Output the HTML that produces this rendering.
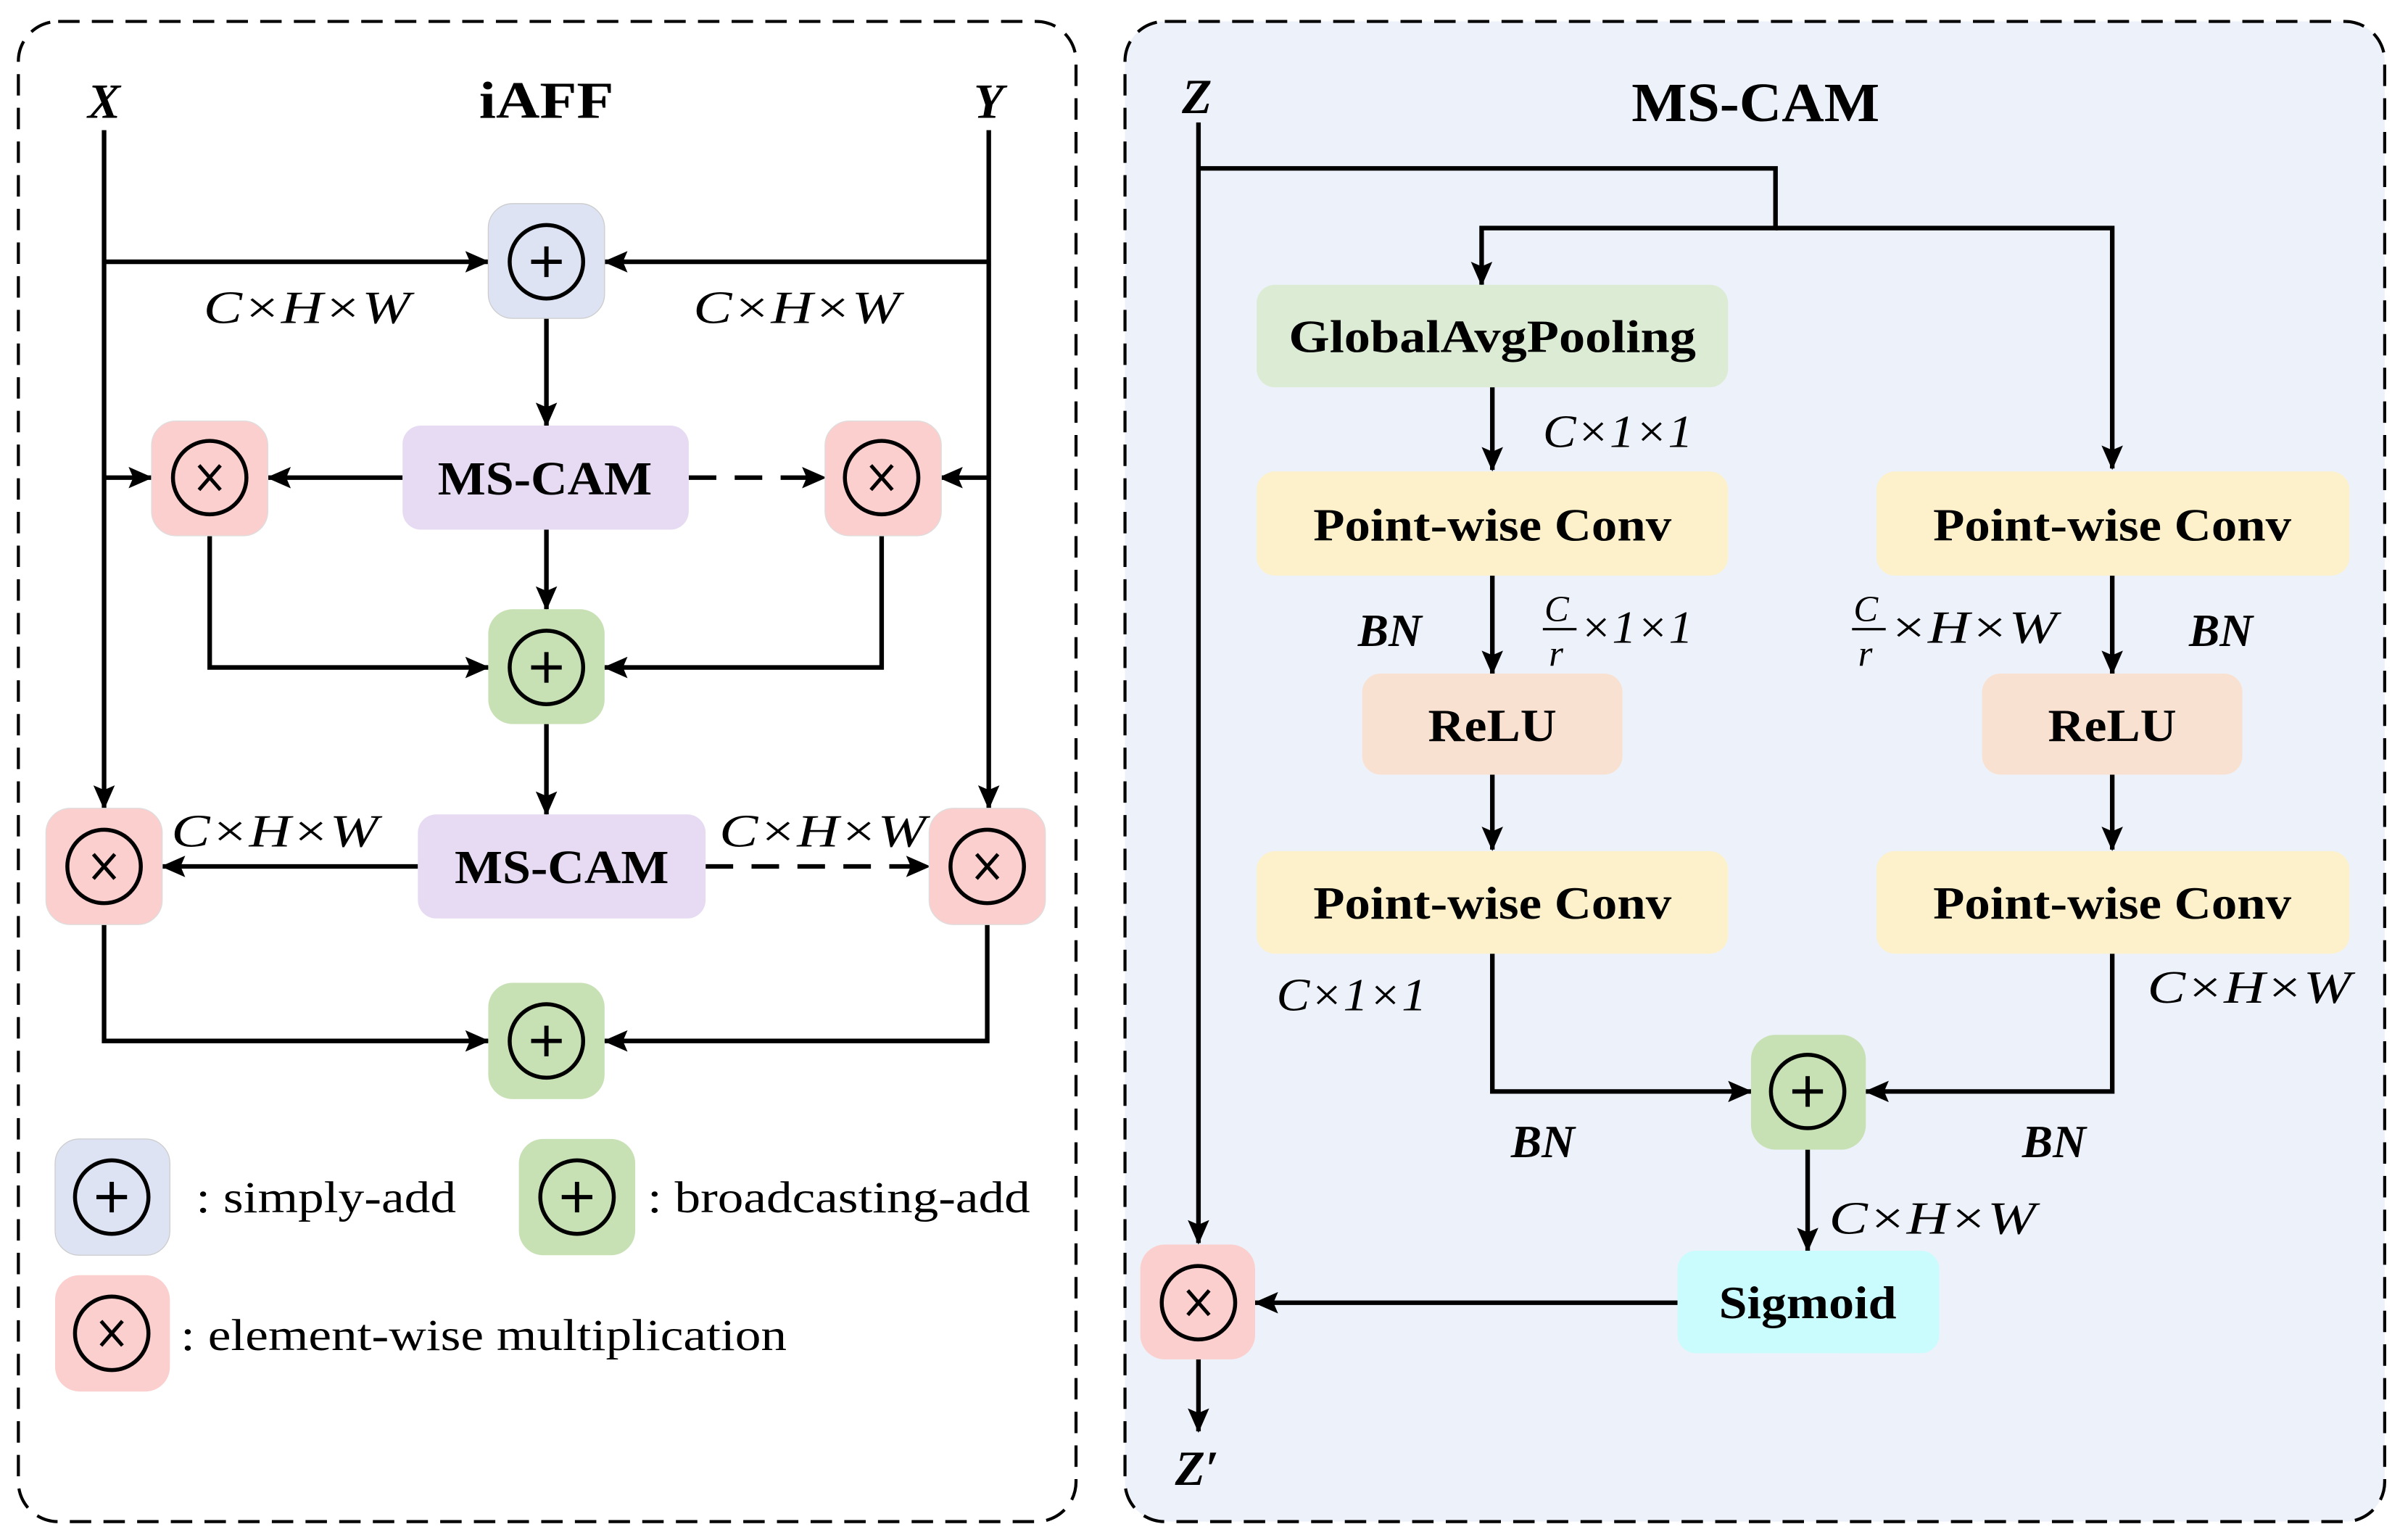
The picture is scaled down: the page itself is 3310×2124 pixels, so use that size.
<!DOCTYPE html>
<html><head><meta charset="utf-8"><style>
html,body{margin:0;padding:0;background:#fff}
svg{display:block}
text{font-family:"Liberation Serif",serif;fill:#000}
.b{font-weight:bold}
.i{font-style:italic}
</style></head><body>
<svg width="3310" height="2124" viewBox="0 0 1568 1006" preserveAspectRatio="none" xmlns="http://www.w3.org/2000/svg">
<defs>
<marker id="a" viewBox="0 0 16 14" refX="15" refY="7" markerWidth="16" markerHeight="14" markerUnits="userSpaceOnUse" orient="auto">
<path d="M0,0 L16,7 L0,14 L3,7 z" fill="#000"/></marker>
<g id="plus"><circle cx="0" cy="0" r="24" fill="none" stroke="#000" stroke-width="2.6"/><path d="M-10,0H10M0,-10V10" stroke="#000" stroke-width="2.8"/></g>
<g id="times"><circle cx="0" cy="0" r="24" fill="none" stroke="#000" stroke-width="2.6"/><path d="M-7,-8L7,8M7,-8L-7,8" stroke="#000" stroke-width="2.4"/></g>
</defs>
<rect x="12" y="14" width="691" height="980" rx="26" fill="#fff" stroke="#000" stroke-width="2" stroke-dasharray="14,8"/>
<rect x="735" y="14" width="823" height="980" rx="26" fill="#edf1f9" stroke="#000" stroke-width="2" stroke-dasharray="14,8"/>

<g stroke="#000" stroke-width="3" fill="none">
<path d="M68,85V528" marker-end="url(#a)"/>
<path d="M646,85V528" marker-end="url(#a)"/>
<path d="M68,171H319" marker-end="url(#a)"/>
<path d="M646,171H395" marker-end="url(#a)"/>
<path d="M357,208V278" marker-end="url(#a)"/>
<path d="M263,312H175" marker-end="url(#a)"/>
<path d="M450,312H539" stroke-dasharray="18,12" marker-end="url(#a)"/>
<path d="M68,312H99" marker-end="url(#a)"/>
<path d="M646,312H614" marker-end="url(#a)"/>
<path d="M357,346V398" marker-end="url(#a)"/>
<path d="M137,350V436H319" marker-end="url(#a)"/>
<path d="M576,350V436H395" marker-end="url(#a)"/>
<path d="M357,473V532" marker-end="url(#a)"/>
<path d="M273,566H106" marker-end="url(#a)"/>
<path d="M461,566H607" stroke-dasharray="18,12" marker-end="url(#a)"/>
<path d="M68,604V680H319" marker-end="url(#a)"/>
<path d="M645,604V680H395" marker-end="url(#a)"/>
<path d="M783,80V812" marker-end="url(#a)"/>
<path d="M783,110H1160V149H968V186" marker-end="url(#a)"/>
<path d="M1160,149H1380V306" marker-end="url(#a)"/>
<path d="M975,253V307" marker-end="url(#a)"/>
<path d="M975,376V440" marker-end="url(#a)"/>
<path d="M1380,376V440" marker-end="url(#a)"/>
<path d="M975,506V555" marker-end="url(#a)"/>
<path d="M1380,506V555" marker-end="url(#a)"/>
<path d="M975,623V713H1144" marker-end="url(#a)"/>
<path d="M1380,623V713H1219" marker-end="url(#a)"/>
<path d="M1181,751V817" marker-end="url(#a)"/>
<path d="M1096,851H820" marker-end="url(#a)"/>
<path d="M783,888V935" marker-end="url(#a)"/>
</g>

<rect x="319" y="133" width="76" height="75" rx="16" fill="#dde3f3" stroke="#ccc" stroke-width="0.6"/><use href="#plus" x="357" y="171"/>
<rect x="263" y="278" width="187" height="68" rx="12" fill="#e6dbf2"/>
<text x="356" y="323" class="b" font-size="31" text-anchor="middle" textLength="140" lengthAdjust="spacingAndGlyphs">MS-CAM</text>
<rect x="99" y="275" width="76" height="75" rx="16" fill="#fccfcf" stroke="#ddd" stroke-width="0.6"/><use href="#times" x="137" y="312"/>
<rect x="539" y="275" width="76" height="75" rx="16" fill="#fccfcf" stroke="#ddd" stroke-width="0.6"/><use href="#times" x="576" y="312"/>
<rect x="319" y="398" width="76" height="75" rx="16" fill="#c7e1b5"/><use href="#plus" x="357" y="436"/>
<rect x="273" y="532" width="188" height="68" rx="12" fill="#e6dbf2"/>
<text x="367" y="577" class="b" font-size="31" text-anchor="middle" textLength="140" lengthAdjust="spacingAndGlyphs">MS-CAM</text>
<rect x="30" y="528" width="76" height="76" rx="16" fill="#fccfcf" stroke="#ddd" stroke-width="0.6"/><use href="#times" x="68" y="566"/>
<rect x="607" y="528" width="76" height="76" rx="16" fill="#fccfcf" stroke="#ddd" stroke-width="0.6"/><use href="#times" x="645" y="566"/>
<rect x="319" y="642" width="76" height="76" rx="16" fill="#c7e1b5"/><use href="#plus" x="357" y="680"/>
<rect x="36" y="744" width="75" height="76" rx="16" fill="#dde3f3" stroke="#ccc" stroke-width="0.6"/><use href="#plus" x="73" y="782"/>
<text x="128" y="792" font-size="29" textLength="170" lengthAdjust="spacingAndGlyphs">: simply-add</text>
<rect x="339" y="744" width="76" height="76" rx="16" fill="#c7e1b5"/><use href="#plus" x="377" y="782"/>
<text x="423" y="792" font-size="29" textLength="250" lengthAdjust="spacingAndGlyphs">: broadcasting-add</text>
<rect x="36" y="833" width="75" height="76" rx="16" fill="#fccfcf"/><use href="#times" x="73" y="871"/>
<text x="118" y="882" font-size="29" textLength="396" lengthAdjust="spacingAndGlyphs">: element-wise multiplication</text>
<text x="68" y="77" class="b i" font-size="32" text-anchor="middle">X</text>
<text x="357" y="77" class="b" font-size="34" text-anchor="middle" textLength="88" lengthAdjust="spacingAndGlyphs">iAFF</text>
<text x="646" y="77" class="b i" font-size="32" text-anchor="middle">Y</text>
<g class="i" font-size="30">
<text x="133" y="211" textLength="135" lengthAdjust="spacingAndGlyphs">C×H×W</text>
<text x="453" y="211" textLength="135" lengthAdjust="spacingAndGlyphs">C×H×W</text>
<text x="112" y="553" textLength="135" lengthAdjust="spacingAndGlyphs">C×H×W</text>
<text x="470" y="553" textLength="135" lengthAdjust="spacingAndGlyphs">C×H×W</text>
</g>

<text x="782" y="74" class="b i" font-size="32" text-anchor="middle">Z</text>
<text x="1147" y="79" class="b" font-size="36" text-anchor="middle" textLength="162" lengthAdjust="spacingAndGlyphs">MS-CAM</text>
<rect x="821" y="186" width="308" height="67" rx="12" fill="#dcebd4"/>
<text x="975" y="230" class="b" font-size="30" text-anchor="middle" textLength="266" lengthAdjust="spacingAndGlyphs">GlobalAvgPooling</text>
<rect x="821" y="308" width="308" height="68" rx="12" fill="#fdf1cb"/>
<text x="975" y="353" class="b" font-size="30" text-anchor="middle" textLength="234" lengthAdjust="spacingAndGlyphs">Point-wise Conv</text>
<rect x="1226" y="308" width="309" height="68" rx="12" fill="#fdf1cb"/>
<text x="1380" y="353" class="b" font-size="30" text-anchor="middle" textLength="234" lengthAdjust="spacingAndGlyphs">Point-wise Conv</text>
<rect x="890" y="440" width="170" height="66" rx="12" fill="#f9e1d1"/>
<text x="975" y="484" class="b" font-size="30" text-anchor="middle" textLength="84" lengthAdjust="spacingAndGlyphs">ReLU</text>
<rect x="1295" y="440" width="170" height="66" rx="12" fill="#f9e1d1"/>
<text x="1380" y="484" class="b" font-size="30" text-anchor="middle" textLength="84" lengthAdjust="spacingAndGlyphs">ReLU</text>
<rect x="821" y="556" width="308" height="67" rx="12" fill="#fdf1cb"/>
<text x="975" y="600" class="b" font-size="30" text-anchor="middle" textLength="234" lengthAdjust="spacingAndGlyphs">Point-wise Conv</text>
<rect x="1226" y="556" width="309" height="67" rx="12" fill="#fdf1cb"/>
<text x="1380" y="600" class="b" font-size="30" text-anchor="middle" textLength="234" lengthAdjust="spacingAndGlyphs">Point-wise Conv</text>
<rect x="1144" y="676" width="75" height="75" rx="16" fill="#c7e1b5"/><use href="#plus" x="1181" y="713"/>
<rect x="1096" y="817" width="171" height="67" rx="12" fill="#cbfcfd"/>
<text x="1181" y="861" class="b" font-size="30" text-anchor="middle" textLength="116" lengthAdjust="spacingAndGlyphs">Sigmoid</text>
<rect x="745" y="813" width="75" height="75" rx="16" fill="#fccfcf"/><use href="#times" x="783" y="851"/>
<text x="782" y="970" class="b i" font-size="32" text-anchor="middle">Z′</text>

<g class="i" font-size="30">
<text x="1008" y="292" textLength="98" lengthAdjust="spacingAndGlyphs">C×1×1</text>
<text x="834" y="660" textLength="98" lengthAdjust="spacingAndGlyphs">C×1×1</text>
<text x="1403" y="655" textLength="133" lengthAdjust="spacingAndGlyphs">C×H×W</text>
<text x="1195" y="806" textLength="135" lengthAdjust="spacingAndGlyphs">C×H×W</text>
<text x="1009" y="406" font-size="24">C</text>
<text x="1012" y="435" font-size="24">r</text>
<text x="1032" y="420" textLength="74" lengthAdjust="spacingAndGlyphs">×1×1</text>
<text x="1211" y="406" font-size="24">C</text>
<text x="1214" y="435" font-size="24">r</text>
<text x="1234" y="420" textLength="110" lengthAdjust="spacingAndGlyphs">×H×W</text>
</g>
<path d="M1008,411H1030M1210,411H1232" stroke="#000" stroke-width="1.5"/>
<g class="b i" font-size="30">
<text x="908" y="422" text-anchor="middle">BN</text>
<text x="1451" y="422" text-anchor="middle">BN</text>
<text x="1008" y="756" text-anchor="middle">BN</text>
<text x="1342" y="756" text-anchor="middle">BN</text>
</g>
</svg>
</body></html>
